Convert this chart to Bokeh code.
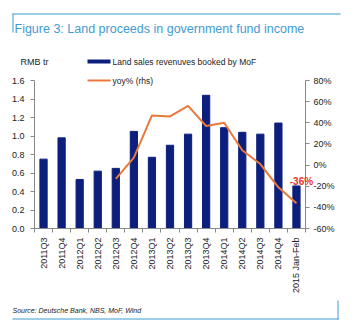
import math
from bokeh.plotting import figure
from bokeh.models import (Range1d, LinearAxis, FixedTicker, PrintfTickFormatter,
                          ColumnDataSource)
from bokeh.embed import file_html
from bokeh.resources import INLINE
from bokeh.core.properties import value

categories = ["2011Q3", "2011Q4", "2012Q1", "2012Q2", "2012Q3", "2012Q4",
              "2013Q1", "2013Q2", "2013Q3", "2013Q4", "2014Q1", "2014Q2",
              "2014Q3", "2014Q4", "2015 Jan-Feb"]
land_sales = [0.75, 0.98, 0.53, 0.62, 0.65, 1.05, 0.77, 0.90, 1.02, 1.44,
              1.09, 1.04, 1.02, 1.14, 0.46]
yoy_categories = ["2012Q3", "2012Q4", "2013Q1", "2013Q2", "2013Q3", "2013Q4",
                  "2014Q1", "2014Q2", "2014Q3", "2014Q4", "2015 Jan-Feb"]
yoy = [-13, 7, 47, 46, 56, 37, 40, 14, 1, -21, -36]
left_ticks = [0.0, 0.2, 0.4, 0.6, 0.8, 1.0, 1.2, 1.4, 1.6]
right_ticks = [-60, -40, -20, 0, 20, 40, 60, 80]

BAR = "#0c1f7d"
LINE = "#e8793a"
TITLE = "#3f9bd3"
FONT = "Liberation Sans"

n = len(categories)
xs = list(range(n))
yoy_x = [categories.index(c) for c in yoy_categories]

FRAME_W, FRAME_H = 271, 148
p = figure(width=355, height=326, x_range=Range1d(-0.5, n - 0.5),
           y_range=Range1d(0, 1.6),
           output_backend="svg", toolbar_location=None,
           min_border_left=34, min_border_right=50, min_border_top=80,
           min_border_bottom=98)
p.extra_y_ranges = {"yoy": Range1d(-60, 80), "px": Range1d(0, FRAME_H)}
p.extra_x_ranges = {"px": Range1d(0, FRAME_W)}
p.grid.visible = False
p.outline_line_color = None
p.background_fill_color = "white"
p.border_fill_color = "white"

p.vbar(x=xs, top=land_sales, width=0.4, color=BAR)
p.line(x=yoy_x, y=yoy, y_range_name="yoy", line_color=LINE, line_width=2)

src = ColumnDataSource(dict(x=[yoy_x[-1]], y=[yoy[-1]], t=[f"{yoy[-1]}%"]))
p.text(x="x", y="y", text="t", source=src, y_range_name="yoy", x_offset=5, y_offset=-22,
       text_align="center", text_baseline="middle", text_color="#e8332a",
       text_font=value(FONT), text_font_size="10px", text_font_style="bold",
       level="overlay")

# axes styling
def style(ax):
    ax.axis_line_color = "#888888"
    ax.major_tick_line_color = "#888888"
    ax.minor_tick_line_color = None
    ax.major_label_text_font = FONT
    ax.major_label_text_font_size = "9px"
    ax.major_label_text_color = "#222222"
    ax.major_tick_in = 0
    ax.major_tick_out = 4

yl = p.yaxis[0]
style(yl)
yl.ticker = FixedTicker(ticks=left_ticks)
yl.formatter = PrintfTickFormatter(format="%.1f")
yl.major_label_standoff = 6

yr = LinearAxis(y_range_name="yoy", ticker=FixedTicker(ticks=right_ticks),
                formatter=PrintfTickFormatter(format="%d%%"))
style(yr)
yr.major_label_standoff = 4
p.add_layout(yr, "right")

xa = p.xaxis[0]
style(xa)
xa.ticker = FixedTicker(ticks=xs, minor_ticks=[i - 0.5 for i in range(n + 1)])
xa.major_label_overrides = {i: c for i, c in enumerate(categories)}
xa.major_tick_line_color = None
xa.minor_tick_line_color = "#888888"
xa.minor_tick_in = 0
xa.minor_tick_out = 4
xa.major_label_orientation = math.pi / 2
xa.major_label_standoff = 5


def box(l, r, b, t, color):
    p.quad(left=[l], right=[r], bottom=[b], top=[t], fill_color=color,
           line_color=None, x_range_name="px", y_range_name="px", level="overlay")


def label(x, y, text, size, style="normal", color="#222222", baseline="middle"):
    p.text(x=[x], y=[y], text=[text], text_font=value(FONT), text_font_size=size,
           text_font_style=style, text_color=color, text_baseline=baseline,
           x_range_name="px", y_range_name="px", level="overlay")


# header / footer decorations (pixel coordinates relative to the frame)
label(-20, 200, "Figure 3: Land proceeds in government fund income", "12.5px",
      color=TITLE, baseline="alphabetic")
box(-22, 306, 214, 215, TITLE)
box(-22, -21, 196, 215, TITLE)
box(-22, 304, -91, -90, TITLE)
box(303, 304, -91, -72, TITLE)
label(-22, -82, "Source: Deutsche Bank, NBS, MoF, Wind", "7px", style="italic",
      baseline="alphabetic")
label(-14, 167, "RMB tr", "9px")
box(53, 76, 165, 169, BAR)
label(78, 167, "Land sales revenuves booked by MoF", "8.5px")
box(53, 76, 147, 149, LINE)
label(78, 148, "yoy% (rhs)", "8.5px")

open("out.html", "w").write(file_html(p, INLINE))
